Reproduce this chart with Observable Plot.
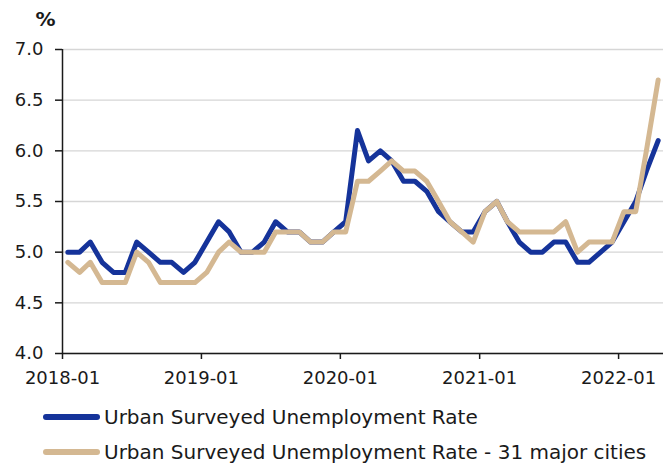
<!DOCTYPE html>
<html>
<head>
<meta charset="utf-8">
<script src="https://cdn.jsdelivr.net/npm/d3@7"></script>
<script src="https://cdn.jsdelivr.net/npm/@observablehq/plot@0.6"></script>
<style>
  html, body { margin: 0; padding: 0; background: #ffffff; }
  #chart { width: 665px; }
  .legend { font-family: "DejaVu Sans", sans-serif; font-size: 20px; color: #1a1a1a; padding-top: 4px; }
  .row { display: flex; align-items: center; height: 35px; white-space: nowrap; }
  .swatch { width: 57px; height: 6px; border-radius: 3px; margin-left: 43px; margin-right: 4px; flex: none; }
</style>
</head>
<body>
<div id="chart"></div>
<script>
const months = [
  "2018-01","2018-02","2018-03","2018-04","2018-05","2018-06","2018-07","2018-08","2018-09","2018-10","2018-11","2018-12",
  "2019-01","2019-02","2019-03","2019-04","2019-05","2019-06","2019-07","2019-08","2019-09","2019-10","2019-11","2019-12",
  "2020-01","2020-02","2020-03","2020-04","2020-05","2020-06","2020-07","2020-08","2020-09","2020-10","2020-11","2020-12",
  "2021-01","2021-02","2021-03","2021-04","2021-05","2021-06","2021-07","2021-08","2021-09","2021-10","2021-11","2021-12",
  "2022-01","2022-02","2022-03","2022-04"
];
const urbanRate = [
  5.0,5.0,5.1,4.9,4.8,4.8,5.1,5.0,4.9,4.9,4.8,4.9,
  5.1,5.3,5.2,5.0,5.0,5.1,5.3,5.2,5.2,5.1,5.1,5.2,
  5.3,6.2,5.9,6.0,5.9,5.7,5.7,5.6,5.4,5.3,5.2,5.2,
  5.4,5.5,5.3,5.1,5.0,5.0,5.1,5.1,4.9,4.9,5.0,5.1,
  5.3,5.5,5.8,6.1
];
const citiesRate = [
  4.9,4.8,4.9,4.7,4.7,4.7,5.0,4.9,4.7,4.7,4.7,4.7,
  4.8,5.0,5.1,5.0,5.0,5.0,5.2,5.2,5.2,5.1,5.1,5.2,
  5.2,5.7,5.7,5.8,5.9,5.8,5.8,5.7,5.5,5.3,5.2,5.1,
  5.4,5.5,5.3,5.2,5.2,5.2,5.2,5.3,5.0,5.1,5.1,5.1,
  5.4,5.4,6.0,6.7
];
const seriesNames = ["Urban Surveyed Unemployment Rate", "Urban Surveyed Unemployment Rate - 31 major cities"];
const seriesColors = ["#15339a", "#d4b892"];
const xTickLabels = ["2018-01","2019-01","2020-01","2021-01","2022-01"];
const yTicks = [4.0, 4.5, 5.0, 5.5, 6.0, 6.5, 7.0];
const yUnit = "%";

const parseMonth = d3.utcParse("%Y-%m");
const mid = s => d3.utcDay.offset(parseMonth(s), 14);
const urbanData = months.map((m, i) => ({date: mid(m), value: urbanRate[i]}));
const citiesData = months.map((m, i) => ({date: mid(m), value: citiesRate[i]}));
const xStart = parseMonth(months[0]);
const xEnd = d3.utcDay.offset(parseMonth(months[months.length - 1]), 28);

const chart = Plot.plot({
  width: 665,
  height: 395,
  marginLeft: 62,
  marginRight: 2,
  marginTop: 49,
  marginBottom: 42,
  style: {fontFamily: "DejaVu Sans, sans-serif", fontSize: "18px", color: "#1a1a1a", background: "#ffffff"},
  x: {type: "utc", domain: [xStart, xEnd]},
  y: {domain: [4, 7]},
  marks: [
    Plot.gridY(yTicks, {stroke: "#d6d6d6", strokeOpacity: 1, strokeWidth: 1.4}),
    Plot.line(urbanData, {x: "date", y: "value", stroke: seriesColors[0], strokeWidth: 5, strokeLinejoin: "round", strokeLinecap: "round"}),
    Plot.line(citiesData, {x: "date", y: "value", stroke: seriesColors[1], strokeWidth: 5, strokeLinejoin: "round", strokeLinecap: "round"}),
    Plot.ruleY([4], {stroke: "#1a1a1a", strokeWidth: 1.5}),
    Plot.ruleX([xStart], {stroke: "#1a1a1a", strokeWidth: 1.5}),
    Plot.axisY({ticks: yTicks, tickFormat: d => d.toFixed(1), tickSize: 7, tickPadding: 12, label: null, strokeWidth: 1.5, fontSize: 18}),
    Plot.axisX({ticks: xTickLabels.map(parseMonth), tickFormat: d3.utcFormat("%Y-%m"), tickSize: 6, tickPadding: 12, label: null, strokeWidth: 1.5, fontSize: 18}),
    Plot.text([yUnit], {frameAnchor: "top-left", textAnchor: "middle", lineAnchor: "middle", dx: -17, dy: -30, fontWeight: "bold", fontSize: 20})
  ]
});
document.getElementById("chart").appendChild(chart);

const legend = document.createElement("div");
legend.className = "legend";
seriesNames.forEach((name, i) => {
  const row = document.createElement("div");
  row.className = "row";
  const sw = document.createElement("span");
  sw.className = "swatch";
  sw.style.background = seriesColors[i];
  const label = document.createElement("span");
  label.textContent = name;
  row.appendChild(sw);
  row.appendChild(label);
  legend.appendChild(row);
});
document.getElementById("chart").appendChild(legend);
</script>
</body>
</html>
